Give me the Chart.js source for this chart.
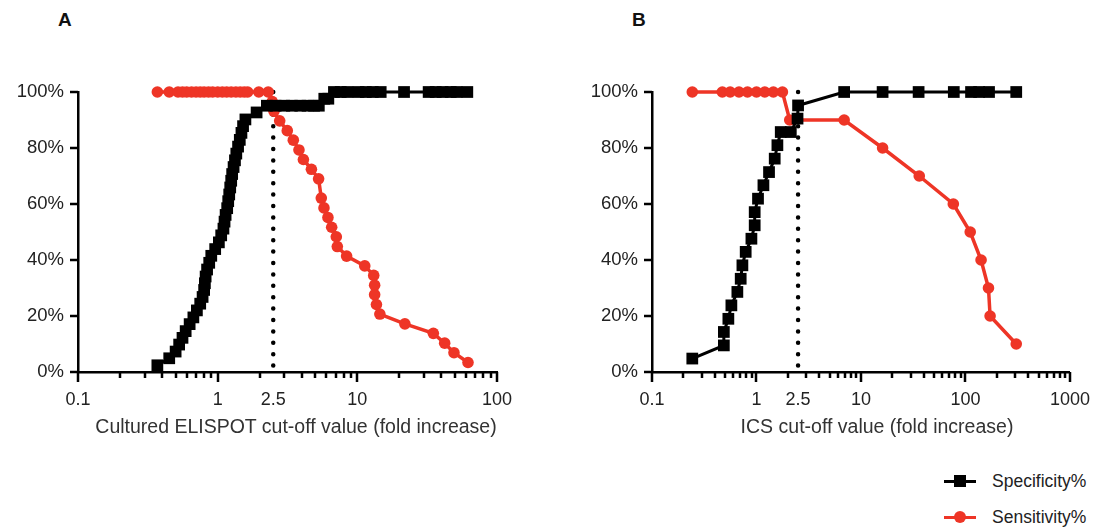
<!DOCTYPE html>
<html>
<head>
<meta charset="utf-8">
<script src="https://cdn.jsdelivr.net/npm/chart.js@4.4.1/dist/chart.umd.min.js"></script>
<style>
  body { margin: 0; background: #fff; font-family: "Liberation Sans", Arial, sans-serif; color: #222; }
  #wrap { position: relative; width: 1099px; height: 528px; overflow: hidden; }
  canvas { position: absolute; top: 0; }
  .panel { position: absolute; font-weight: bold; font-size: 19px; color: #111; }
  .axt { position: absolute; top: 414px; width: 600px; text-align: center; font-size: 19.5px; line-height: 24px; color: #333; white-space: nowrap; }
  .leg { position: absolute; left: 944px; height: 20px; font-size: 17.5px; }
  .leg .ln { position: absolute; left: 0; top: 9px; width: 32px; height: 3px; }
  .leg .mk { position: absolute; left: 10px; top: 4px; width: 12px; height: 12px; }
  .leg .tx { position: absolute; left: 48px; top: 0; white-space: nowrap; line-height: 20px; color: #222; }
</style>
</head>
<body>
<div id="wrap">
  <div class="panel" style="left:58px; top:9px;">A</div>
  <div class="panel" style="left:632px; top:9px;">B</div>
  <canvas id="chartA" width="540" height="450" style="left:0px;"></canvas>
  <canvas id="chartB" width="525" height="450" style="left:574px;"></canvas>
  <div class="axt" style="left:-4px;">Cultured ELISPOT cut-off value (fold increase)</div>
  <div class="axt" style="left:577px;">ICS cut-off value (fold increase)</div>
  <div class="leg" style="top:471px;">
    <div class="ln" style="background:#000"></div>
    <div class="mk" style="background:#000"></div>
    <div class="tx">Specificity%</div>
  </div>
  <div class="leg" style="top:507px;">
    <div class="ln" style="background:#ee3526"></div>
    <div class="mk" style="background:#ee3526; border-radius:50%"></div>
    <div class="tx">Sensitivity%</div>
  </div>
</div>
<script>
// ---------- data: panel A (cultured ELISPOT) ----------
var specA_x = [0.37, 0.45, 0.50, 0.53, 0.56, 0.59, 0.63, 0.67, 0.71, 0.75, 0.78, 0.80, 0.81, 0.82, 0.84, 0.87, 0.90,
               0.96, 1.02, 1.06, 1.10, 1.12, 1.14, 1.17, 1.19, 1.21, 1.23, 1.25, 1.27, 1.30, 1.33, 1.36, 1.40, 1.44,
               1.48, 1.52, 1.58, 1.90, 2.25, 2.6, 3.0, 3.4, 3.9, 4.4, 4.9, 5.3, 5.8, 6.2, 6.8, 7.6, 8.5, 10.2, 11.5,
               12.9, 14.7, 21.6, 32.4, 36.4, 40.8, 46.6, 51.4, 61.3];
var specA_y = [2.4, 4.9, 7.3, 9.8, 12.2, 14.6, 17.1, 19.5, 22.0, 24.4, 26.8, 29.3, 31.7, 34.1, 36.6, 39.0, 41.5,
               43.9, 46.3, 48.8, 51.2, 53.7, 56.1, 58.5, 61.0, 63.4, 65.9, 68.3, 70.7, 73.2, 75.6, 78.0, 80.5, 82.9,
               85.4, 87.8, 90.2, 92.7, 95.1, 95.1, 95.1, 95.1, 95.1, 95.1, 95.1, 95.1, 97.6, 97.6, 100, 100, 100, 100, 100,
               100, 100, 100, 100, 100, 100, 100, 100, 100];

var sensA_x = [0.37, 0.45, 0.52, 0.56, 0.60, 0.65, 0.70, 0.75, 0.80, 0.86, 0.92, 1.00, 1.08, 1.16, 1.25, 1.35, 1.45,
               1.55, 1.64, 1.97, 2.30, 2.46, 2.53, 2.78, 3.15, 3.48, 3.82, 4.11, 4.69, 5.28, 5.52, 5.77, 6.16, 6.55,
               7.07, 7.19, 8.38, 11.3, 13.1, 13.3, 13.3, 13.7, 14.5, 21.9, 35.0, 42.2, 49.2, 62.0];
var sensA_y = [100, 100, 100, 100, 100, 100, 100, 100, 100, 100, 100, 100, 100, 100, 100, 100, 100,
               100, 100, 100, 100, 96.6, 93.1, 89.7, 86.2, 82.8, 79.3, 75.9, 72.4, 69.0, 62.1, 58.6, 55.2, 51.7,
               48.3, 44.8, 41.4, 37.9, 34.5, 31.0, 27.6, 24.1, 20.7, 17.2, 13.8, 10.3, 6.9, 3.4];

// ---------- data: panel B (ICS) ----------
var specB_x = [0.243, 0.487, 0.487, 0.538, 0.575, 0.656, 0.706, 0.733, 0.788, 0.894, 0.961, 0.961, 1.034, 1.165,
               1.318, 1.494, 1.585, 1.706, 2.13, 2.47, 2.50, 6.9, 16.1, 35.6, 77.3, 113, 135, 168, 306];
var specB_y = [4.8, 9.5, 14.3, 19.0, 23.8, 28.6, 33.3, 38.1, 42.9, 47.6, 52.4, 57.1, 61.9, 66.7,
               71.4, 76.2, 81.0, 85.7, 85.7, 90.5, 95.2, 100, 100, 100, 100, 100, 100, 100, 100];

var sensB_x = [0.243, 0.471, 0.56, 0.68, 0.82, 1.0, 1.2, 1.45, 1.77, 2.08, 6.9, 16.1, 36.1, 76.5, 111, 141, 166, 172, 306];
var sensB_y = [100, 100, 100, 100, 100, 100, 100, 100, 100, 90, 90, 80, 70, 60, 50, 40, 30, 20, 10];

var cutoff = 2.5;
var yTicks = [0, 20, 40, 60, 80, 100];
var xTicksA = [0.1, 1, 2.5, 10, 100];
var xTicksB = [0.1, 1, 2.5, 10, 100, 1000];

var RED = '#ee3526';
var FONT = '"Liberation Sans", Arial, sans-serif';

function toPoints(xs, ys) {
    return xs.map(function(x, i) { return { x: x, y: ys[i] }; });
}

// draws the major/minor tick marks of the log x axis and the y axis
var axisTicks = {
    id: 'axisTicks',
    afterDraw: function(chart) {
        var ctx = chart.ctx, xs = chart.scales.x, ys = chart.scales.y;
        var bottom = ys.getPixelForValue(0);
        var left = xs.getPixelForValue(xs.min);
        ctx.save();
        ctx.strokeStyle = '#000';
        ctx.lineWidth = 2.5;
        ctx.beginPath();
        var e0 = Math.round(Math.log10(xs.min)), e1 = Math.round(Math.log10(xs.max));
        for (var e = e0; e <= e1; e++) {
            var base = Math.pow(10, e);
            var px = Math.round(xs.getPixelForValue(base));
            ctx.moveTo(px, bottom);
            ctx.lineTo(px, bottom + 10);
            if (e === e1) break;
            for (var k = 2; k <= 9; k++) {
                var p = Math.round(xs.getPixelForValue(k * base));
                ctx.moveTo(p, bottom);
                ctx.lineTo(p, bottom + 6);
            }
        }
        yTicks.forEach(function(v) {
            var py = Math.round(ys.getPixelForValue(v));
            ctx.moveTo(left, py);
            ctx.lineTo(left - 8, py);
        });
        ctx.stroke();
        ctx.restore();
    }
};

function makeChart(id, sx, sy, ex, ey, xMax, xTicks, padRight) {
    var ctx = document.getElementById(id).getContext('2d');
    return new Chart(ctx, {
        type: 'line',
        data: {
            datasets: [{
                label: 'Specificity%',
                data: toPoints(sx, sy),
                borderColor: '#000',
                backgroundColor: '#000',
                borderWidth: 3,
                pointStyle: 'rect',
                pointRadius: 8.3,
                pointBorderWidth: 0,
                clip: false
            }, {
                label: 'Sensitivity%',
                data: toPoints(ex, ey),
                borderColor: RED,
                backgroundColor: RED,
                borderWidth: 3.5,
                pointStyle: 'circle',
                pointRadius: 5.8,
                pointBorderWidth: 0,
                clip: false
            }, {
                label: 'cut-off',
                data: [{ x: cutoff, y: 100 }, { x: cutoff, y: 0 }],
                borderColor: '#000',
                borderWidth: 4.5,
                borderDash: [0, 11.4],
                borderCapStyle: 'round',
                pointRadius: 0,
                clip: false
            }]
        },
        options: {
            responsive: false,
            animation: false,
            devicePixelRatio: 1,
            layout: { padding: { top: 92, right: padRight, left: 0, bottom: 0 } },
            plugins: { legend: { display: false }, tooltip: { enabled: false } },
            scales: {
                x: {
                    type: 'logarithmic',
                    min: 0.1,
                    max: xMax,
                    afterBuildTicks: function(scale) {
                        scale.ticks = xTicks.map(function(v) { return { value: v }; });
                    },
                    afterFit: function(scale) { scale.height = 78; },
                    grid: { display: false },
                    border: { display: true, color: '#000', width: 2.5 },
                    ticks: {
                        autoSkip: false,
                        maxRotation: 0,
                        padding: 9,
                        color: '#222',
                        font: { family: FONT, size: 18 },
                        callback: function(v) { return String(v); }
                    }
                },
                y: {
                    min: 0,
                    max: 100,
                    afterBuildTicks: function(scale) {
                        scale.ticks = yTicks.map(function(v) { return { value: v }; });
                    },
                    afterFit: function(scale) { scale.width = 78; },
                    grid: { display: false },
                    border: { display: true, color: '#000', width: 2.5 },
                    ticks: {
                        padding: 6,
                        color: '#222',
                        font: { family: FONT, size: 18.5 },
                        callback: function(v) { return v + '%'; }
                    }
                }
            }
        },
        plugins: [axisTicks]
    });
}

makeChart('chartA', specA_x, specA_y, sensA_x, sensA_y, 100, xTicksA, 43);
makeChart('chartB', specB_x, specB_y, sensB_x, sensB_y, 1000, xTicksB, 29);
</script>
</body>
</html>
